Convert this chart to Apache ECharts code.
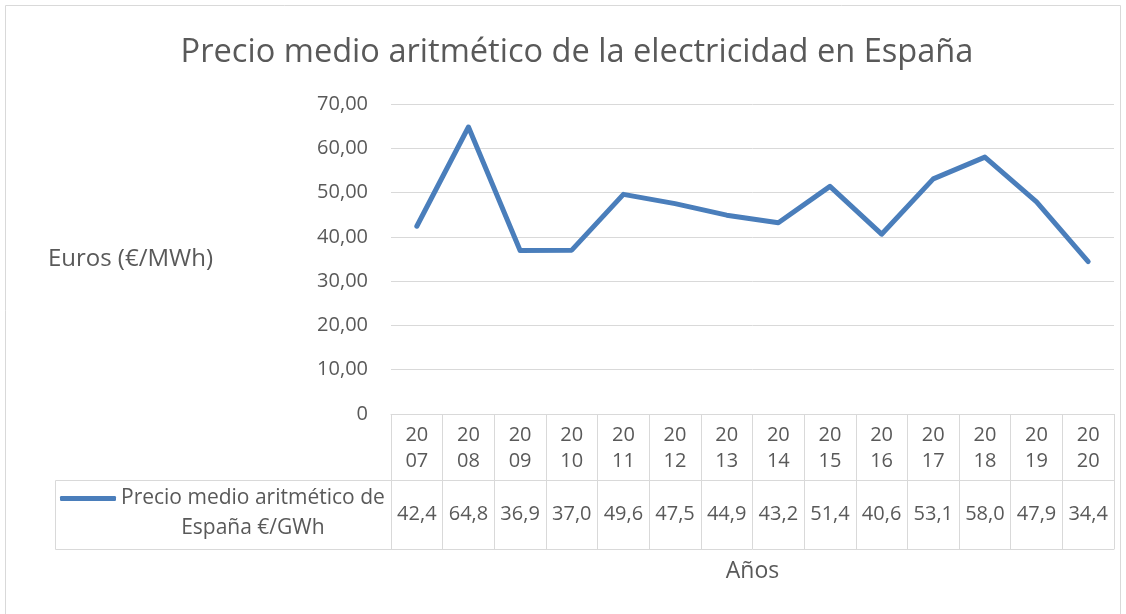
<!DOCTYPE html>
<html>
<head>
<meta charset="utf-8">
<script src="https://cdn.jsdelivr.net/npm/echarts@6/dist/echarts.min.js"></script>
<style>
  html, body { margin: 0; padding: 0; background: #fff; }
  #chart { width: 1126px; height: 614px; }
</style>
</head>
<body>
<div id="chart"></div>
<script>
// Precio medio aritmético anual del mercado eléctrico español
const years = ['2007', '2008', '2009', '2010', '2011', '2012', '2013',
               '2014', '2015', '2016', '2017', '2018', '2019', '2020'];
const prices = [42.4, 64.8, 36.9, 37.0, 49.6, 47.5, 44.9,
                43.2, 51.4, 40.6, 53.1, 58.0, 47.9, 34.4];
const yTicks = [0, 10, 20, 30, 40, 50, 60, 70];
const seriesName = 'Precio medio aritmético de España €/GWh';

const FONT = 'Open Sans';
const TEXT = '#595959';
const RULE = '#d9d9d9';
const BLUE = '#4a7ebb';

const fmtComma = (v, d) => v.toFixed(d).replace('.', ',');
const priceLabels = prices.map(v => fmtComma(v, 1));

const chart = echarts.init(document.getElementById('chart'));

chart.setOption({
  animation: false,
  textStyle: { fontFamily: FONT, color: TEXT },
  title: {
    text: 'Precio medio aritmético de la electricidad en España',
    left: 572,
    textAlign: 'center',
    top: 31,
    textStyle: { fontFamily: FONT, fontSize: 32.6, fontWeight: 'normal', color: TEXT }
  },
  grid: { left: 391, right: 12, top: 104, bottom: 200 },
  legend: {
    data: [seriesName],
    left: 60,
    top: 488,
    padding: 0,
    itemWidth: 56,
    itemHeight: 5,
    icon: 'roundRect',
    formatter: () => '{a|Precio medio aritmético de}\n{b|España €/GWh}',
    textStyle: {
      fontFamily: FONT,
      fontSize: 21,
      color: TEXT,
      padding: [30, 0, 0, 0],
      rich: {
        a: { fontFamily: FONT, fontSize: 21, color: TEXT, lineHeight: 30, align: 'center' },
        b: { fontFamily: FONT, fontSize: 21, color: TEXT, lineHeight: 30, align: 'center' }
      }
    }
  },
  xAxis: [
    {
      // row of years, with the table's vertical rules as ticks
      type: 'category',
      data: years,
      position: 'bottom',
      boundaryGap: true,
      axisLine: { show: true, lineStyle: { color: RULE, width: 1 } },
      axisTick: { show: true, interval: 0, length: 135, lineStyle: { color: RULE, width: 1 } },
      axisLabel: {
        interval: 0,
        margin: 8,
        fontFamily: FONT,
        fontSize: 20,
        lineHeight: 26,
        color: TEXT,
        formatter: y => y.slice(0, 2) + '\n' + y.slice(2)
      },
      splitLine: { show: false }
    },
    {
      // row of values
      type: 'category',
      data: priceLabels,
      position: 'bottom',
      offset: 66,
      boundaryGap: true,
      axisLine: { show: true, lineStyle: { color: RULE, width: 1 } },
      axisTick: { show: false },
      axisLabel: { interval: 0, margin: 24, fontFamily: FONT, fontSize: 20, color: TEXT },
      splitLine: { show: false }
    },
    {
      // closing rule of the table and axis title
      type: 'category',
      data: years,
      position: 'bottom',
      offset: 135,
      boundaryGap: true,
      axisLine: { show: true, lineStyle: { color: RULE, width: 1 } },
      axisTick: { show: false },
      axisLabel: { show: false },
      name: 'Años',
      nameLocation: 'middle',
      nameGap: 11,
      nameTextStyle: { fontFamily: FONT, fontSize: 23, color: TEXT, verticalAlign: 'top' }
    }
  ],
  yAxis: {
    type: 'value',
    min: yTicks[0],
    max: yTicks[yTicks.length - 1],
    interval: yTicks[1] - yTicks[0],
    axisLine: { show: false },
    axisTick: { show: false },
    axisLabel: {
      margin: 23,
      fontFamily: FONT,
      fontSize: 20,
      color: TEXT,
      formatter: v => (v === 0 ? '0' : fmtComma(v, 2))
    },
    splitLine: { show: true, lineStyle: { color: RULE, width: 1 } },
    name: 'Euros (€/MWh)',
    nameLocation: 'middle',
    nameRotate: 0,
    nameGap: 178,
    nameTextStyle: { fontFamily: FONT, fontSize: 24, color: TEXT, align: 'right', padding: [6, 0, 0, 0] }
  },
  graphic: [
    {
      type: 'rect',
      silent: true,
      shape: { x: 5.5, y: 5.5, width: 1115, height: 620 },
      style: { fill: 'none', stroke: RULE, lineWidth: 1 }
    },
    {
      type: 'rect',
      silent: true,
      shape: { x: 55.5, y: 480.5, width: 336, height: 69 },
      style: { fill: 'none', stroke: RULE, lineWidth: 1 }
    }
  ],
  series: [
    {
      name: seriesName,
      type: 'line',
      xAxisIndex: 0,
      data: prices,
      showSymbol: false,
      symbol: 'none',
      lineStyle: { color: BLUE, width: 5, cap: 'round', join: 'round' },
      itemStyle: { color: BLUE }
    }
  ]
});
</script>
</body>
</html>
